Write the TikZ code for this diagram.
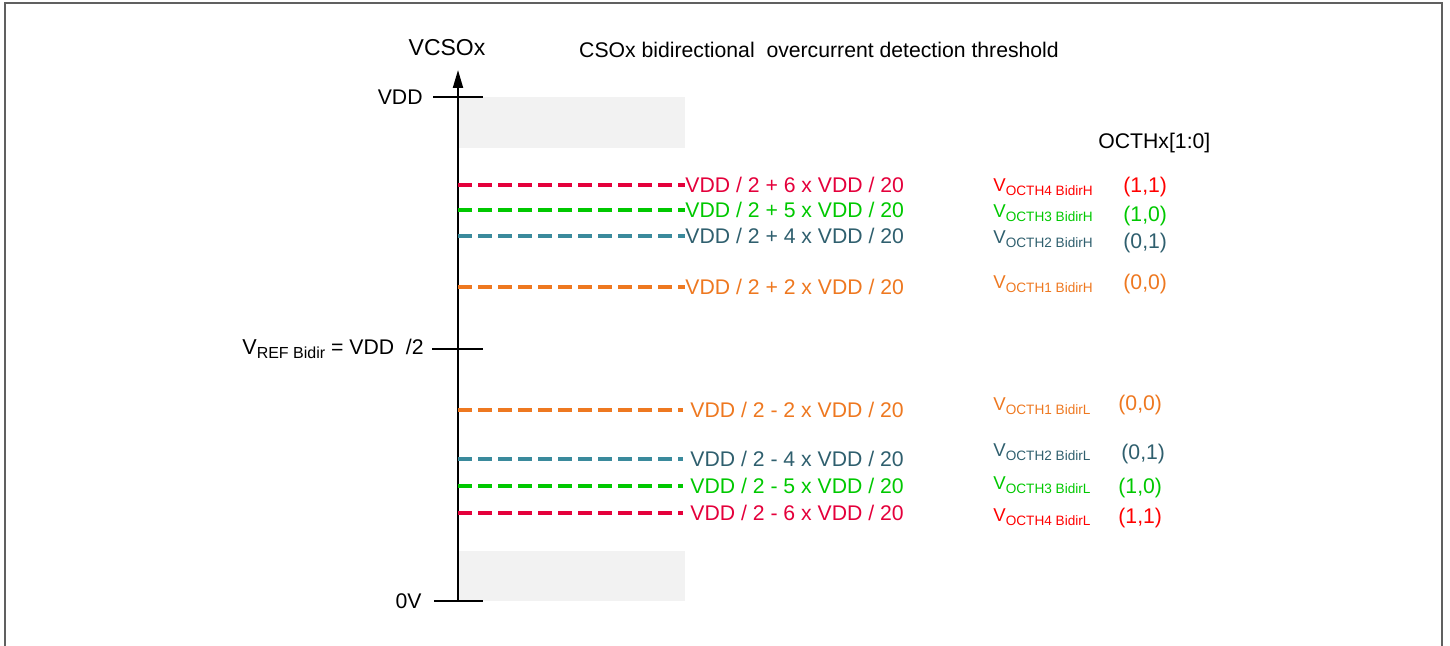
\documentclass[tikz,border=0pt]{standalone}
\usepackage{fontspec}
\setmainfont{Liberation Sans}
\usetikzlibrary{arrows.meta,positioning}

\definecolor{octhred}{HTML}{E4003B}
\definecolor{octhpure}{HTML}{FF0000}
\definecolor{octhgreen}{HTML}{00C800}
\definecolor{octhteal}{HTML}{2F5F6E}
\definecolor{octhtealline}{HTML}{3A8A9C}
\definecolor{octhorange}{HTML}{EE7820}
\definecolor{bandgray}{HTML}{F2F2F2}
\definecolor{framegray}{HTML}{606060}

% V with a lowered subscript
\newcommand{\vname}[3]{{\fontsize{#1}{#1}\selectfont V}\raisebox{-0.35ex}{\fontsize{#2}{#2}\selectfont #3}}
\newcommand{\octhv}[1]{\vname{9.3}{6.8}{#1}}

\begin{document}
\begin{tikzpicture}[x=0.5pt, y=-0.5pt, font=\fontsize{10.6}{12}\selectfont,
    lbl/.style={anchor=west, inner sep=0pt},
    thr/.style={dash pattern=on 7pt off 3pt, line width=1.7pt},
    tick/.style={line width=0.8pt}]
    \useasboundingbox (0,0) rectangle (1450,646);

    % Frame
    \draw[framegray, line width=1pt] (5,646) -- (5,3) -- (1442,3) -- (1442,646);

    % Gray bands
    \fill[bandgray] (458,97) rectangle (685,148);
    \fill[bandgray] (458,551) rectangle (685,601);

    % Axis
    \coordinate (zero) at (458,601);
    \coordinate (vtop) at (458,70);
    \draw[line width=1pt, -{Triangle[length=9pt,width=5pt]}] (zero) -- (vtop);
    \node (vcso) at (447,48) {\fontsize{11.5}{13}\selectfont VCSOx};
    \node (title) at (819,50) {CSOx bidirectional\ \ overcurrent detection threshold};

    % Ticks
    \node[anchor=east, inner sep=0pt] (vddlbl) at (423,97) {VDD};
    \draw[tick] ([xshift=5pt]vddlbl.east) -- (483,97);
    \node[anchor=east, inner sep=0pt] (reflbl) at (424,349) {\vname{10.8}{8}{REF Bidir} = VDD\ \ /2};
    \draw[tick] ([xshift=4pt]reflbl.east) -- (483,349);
    \node[anchor=east, inner sep=0pt] (zerolbl) at (422,601) {0V};
    \draw[tick] ([xshift=6pt]zerolbl.east) -- (483,601);

    % Upper thresholds
    \node[lbl, octhred] (h6) at (685,185) {VDD / 2 + 6 x VDD / 20};
    \draw[thr, octhred] (h6.west -| zero) -- (h6.west);
    \node[lbl, octhgreen] (h5) at (685,210) {VDD / 2 + 5 x VDD / 20};
    \draw[thr, octhgreen] (h5.west -| zero) -- (h5.west);
    \node[lbl, octhteal] (h4) at (685,236) {VDD / 2 + 4 x VDD / 20};
    \draw[thr, octhtealline] (h4.west -| zero) -- (h4.west);
    \node[lbl, octhorange] (h2) at (685,287) {VDD / 2 + 2 x VDD / 20};
    \draw[thr, octhorange] (h2.west -| zero) -- (h2.west);

    % Lower thresholds
    \node[lbl, octhorange] (l2) at (690,410) {VDD / 2 - 2 x VDD / 20};
    \draw[thr, octhorange] (l2.west -| zero) -- ([xshift=-3.5pt]l2.west);
    \node[lbl, octhteal] (l4) at (690,459) {VDD / 2 - 4 x VDD / 20};
    \draw[thr, octhtealline] (l4.west -| zero) -- ([xshift=-3.5pt]l4.west);
    \node[lbl, octhgreen] (l5) at (690,486) {VDD / 2 - 5 x VDD / 20};
    \draw[thr, octhgreen] (l5.west -| zero) -- ([xshift=-3.5pt]l5.west);
    \node[lbl, octhred] (l6) at (690,513) {VDD / 2 - 6 x VDD / 20};
    \draw[thr, octhred] (l6.west -| zero) -- ([xshift=-3.5pt]l6.west);

    % OCTHx settings
    \node[lbl] (octh) at (1098,143) {OCTHx[1:0]};
    \node[lbl, octhpure] (vh4) at (993,187) {\octhv{OCTH4 BidirH}};
    \node[lbl, octhpure] (ch4) at (1123,187) {(1,1)};
    \node[lbl, octhgreen] (vh3) at (993,213) {\octhv{OCTH3 BidirH}};
    \node[lbl, octhgreen] (ch3) at (1123,216) {(1,0)};
    \node[lbl, octhteal] (vh2) at (993,239) {\octhv{OCTH2 BidirH}};
    \node[lbl, octhteal] (ch2) at (1123,243) {(0,1)};
    \node[lbl, octhorange] (vh1) at (993,284) {\octhv{OCTH1 BidirH}};
    \node[lbl, octhorange] (ch1) at (1123,284) {(0,0)};

    \node[lbl, octhorange] (vl1) at (993,406) {\octhv{OCTH1 BidirL}};
    \node[lbl, octhorange] (cl1) at (1118,405) {(0,0)};
    \node[lbl, octhteal] (vl2) at (993,452) {\octhv{OCTH2 BidirL}};
    \node[lbl, octhteal] (cl2) at (1121,454) {(0,1)};
    \node[lbl, octhgreen] (vl3) at (993,485) {\octhv{OCTH3 BidirL}};
    \node[lbl, octhgreen] (cl3) at (1118,488) {(1,0)};
    \node[lbl, octhpure] (vl4) at (993,517) {\octhv{OCTH4 BidirL}};
    \node[lbl, octhpure] (cl4) at (1118,518) {(1,1)};
\end{tikzpicture}
\end{document}
